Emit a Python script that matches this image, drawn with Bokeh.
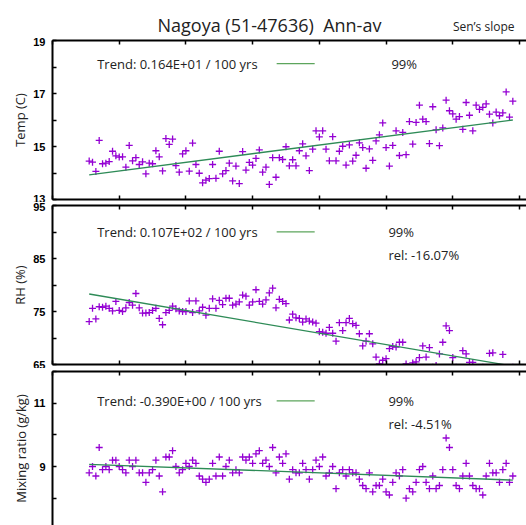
from bokeh.plotting import figure
from bokeh.models import LinearAxis, FixedTicker, Label
from bokeh.layouts import column
from bokeh.embed import file_html
from bokeh.resources import INLINE

years = list(range(1891, 2019))

temp = [14.45, 14.41, 14.06, 15.23, 14.35, 14.37, 14.43, 14.82, 14.65, 14.60,
        14.61, 14.22, 15.04, 14.46, 14.58, 14.32, 14.42, 13.97, 14.37, 14.35,
        14.84, 14.61, 14.08, 15.30, 15.08, 15.28, 14.28, 14.03, 14.72, 14.84,
        14.07, 15.13, 14.32, 13.99, 13.63, 13.73, 13.79, 14.32, 13.80, 14.82,
        13.97, 14.09, 14.37, 13.70, 14.26, 13.60, 14.81, 14.11, 14.40, 14.30,
        14.55, 14.87, 14.03, 14.22, 13.57, 14.58, 13.84, 14.58, 14.51, 14.99,
        14.27, 14.50, 14.27, 14.84, 15.10, 14.65, 14.09, 14.90, 15.59, 15.36,
        15.59, 14.90, 14.46, 15.37, 14.46, 14.82, 15.01, 14.30, 15.06, 14.45,
        14.67, 15.14, 14.96, 14.18, 14.91, 14.48, 15.21, 15.44, 15.89, 14.96,
        14.26, 15.04, 15.59, 14.66, 15.53, 14.69, 15.94, 15.09, 15.91, 16.56,
        16.03, 15.94, 15.11, 16.50, 15.63, 15.03, 15.70, 16.75, 16.35, 16.23,
        16.03, 16.13, 15.65, 16.66, 16.18, 15.59, 16.56, 16.40, 16.48, 16.61,
        16.22, 15.89, 16.30, 16.16, 16.27, 17.06, 16.11, 16.71]

rh = [73.1, 75.6, 73.6, 75.9, 75.8, 76.0, 75.6, 75.1, 76.9, 75.2,
      75.0, 75.7, 76.7, 76.2, 78.4, 75.7, 74.7, 74.7, 74.8, 75.2,
      75.6, 73.7, 72.5, 74.8, 75.2, 76.0, 75.5, 75.1, 75.0, 75.0,
      77.0, 74.8, 77.0, 75.1, 75.8, 74.3, 75.6, 77.4, 75.6, 77.1,
      76.3, 77.5, 77.5, 76.2, 76.4, 76.8, 78.1, 77.9, 76.2, 76.8,
      79.1, 76.9, 76.4, 77.2, 78.5, 79.4, 75.7, 77.3, 76.9, 76.5,
      73.4, 74.5, 73.8, 73.7, 73.0, 73.6, 73.2, 73.0, 72.8, 71.2,
      71.1, 70.9, 72.0, 70.9, 69.4, 72.9, 71.4, 72.9, 73.7, 72.7,
      72.4, 70.8, 68.5, 69.4, 70.8, 68.9, 66.4, 65.1, 65.8, 66.1,
      68.0, 68.4, 68.3, 69.2, 69.2, 65.1, 64.3, 65.3, 65.5, 66.3,
      68.5, 66.4, 68.2, 64.5, 64.8, 67.0, 69.2, 72.3, 71.4, 66.3,
      64.5, 64.0, 67.6, 67.0, 65.4, 65.4, 64.2, 64.0, 64.5, 64.3,
      67.1, 67.2, 64.0, 64.5, 66.9, 64.2, 64.0, 64.5]

mix = [8.8, 9.0, 8.7, 9.6, 8.9, 9.0, 8.9, 9.2, 9.2, 9.0,
       8.9, 8.8, 9.2, 9.0, 9.2, 8.8, 8.8, 8.5, 8.8, 8.9,
       9.2, 8.7, 8.2, 9.3, 9.3, 9.5, 9.0, 8.8, 8.9, 9.1,
       9.0, 9.2, 9.1, 8.7, 8.6, 8.5, 8.6, 9.1, 8.7, 9.3,
       8.7, 9.0, 9.2, 8.8, 8.9, 8.8, 9.3, 9.2, 9.3, 9.1,
       9.4, 9.5, 9.1, 9.2, 9.0, 9.6, 8.8, 9.3, 9.1, 9.4,
       8.6, 8.9, 8.8, 8.8, 9.1, 8.9, 8.6, 8.9, 9.2, 9.0,
       9.3, 8.7, 8.8, 9.0, 8.3, 8.8, 8.9, 8.7, 8.9, 8.8,
       8.8, 8.6, 8.4, 8.3, 8.8, 8.2, 8.4, 8.4, 8.6, 8.2,
       8.1, 8.5, 8.8, 8.7, 8.9, 8.0, 8.3, 8.2, 8.5, 8.9,
       9.0, 8.5, 8.3, 8.7, 8.3, 8.4, 8.9, 9.9, 9.6, 8.9,
       8.4, 8.3, 8.7, 9.1, 8.7, 8.4, 8.3, 8.3, 8.1, 8.7,
       9.1, 8.8, 8.8, 8.5, 8.9, 9.1, 8.5, 8.7]

trend_years = [1891, 2018]
temp_trend = [13.93, 16.00]
rh_trend = [78.3, 64.7]
mix_trend = [9.07, 8.57]

x_ticks = [1880, 1900, 1920, 1940, 1960, 1980, 2000, 2020]

PURPLE = "#9400d3"
GREEN = "#2e8b57"
KEYGREEN = "#5da55d"
TXT = "#222222"
FONT = "Open Sans"
W = 526
LEFT = 52
X0, X1 = 1880, 2022.1


def panel(height, btop, bbot, yr, majors, minors, ylabel, show_bottom=True):
    p = figure(width=W, height=height, x_range=(X0, X1), y_range=yr,
               output_backend="svg", toolbar_location=None,
               min_border_left=LEFT, min_border_right=0,
               min_border_top=btop, min_border_bottom=bbot,
               x_axis_location=None, y_axis_location=None)
    p.outline_line_color = None
    p.xgrid.grid_line_color = None
    p.ygrid.grid_line_color = None
    p.background_fill_color = "white"
    p.border_fill_color = "white"

    yax = LinearAxis(ticker=FixedTicker(ticks=majors, minor_ticks=minors))
    yax.axis_line_width = 2
    yax.major_tick_in = 4
    yax.major_tick_out = 0
    yax.minor_tick_in = 4
    yax.minor_tick_out = 0
    yax.major_tick_line_width = 1.5
    yax.minor_tick_line_width = 1.5
    yax.major_label_text_font = "Liberation Sans"
    yax.major_label_text_font_style = "bold"
    yax.major_label_text_font_size = "11px"
    yax.major_label_text_color = "black"
    yax.major_label_standoff = 7
    yax.axis_label = ylabel
    yax.axis_label_text_font = FONT
    yax.axis_label_text_font_style = "normal"
    yax.axis_label_text_font_size = "13px"
    yax.axis_label_text_color = TXT
    yax.axis_label_standoff = 1
    p.add_layout(yax, "left")

    locs = ["above", "below"] if show_bottom else ["above"]
    for loc in locs:
        xax = LinearAxis(ticker=FixedTicker(ticks=x_ticks, minor_ticks=[]))
        xax.axis_line_width = 2
        xax.major_tick_in = 4
        xax.major_tick_out = 0
        xax.major_tick_line_width = 1.5
        xax.minor_tick_in = 0
        xax.minor_tick_out = 0
        xax.major_label_text_font_size = "0px"
        xax.major_label_text_color = None
        xax.major_label_standoff = 0
        p.add_layout(xax, loc)
    return p


def text(p, x, y, s, size="13px", align="left", baseline="middle"):
    p.add_layout(Label(x=x, y=y, text=s, text_font=FONT, text_font_size=size,
                       text_color=TXT, text_align=align, text_baseline=baseline))


# ---- header (title row); its frame is aligned with the panels' frames ----
HEAD_H = 37
head = figure(width=W, height=HEAD_H, x_range=(LEFT, W), y_range=(0, HEAD_H),
              output_backend="svg", toolbar_location=None,
              min_border_left=LEFT, min_border_right=0, min_border_top=0,
              min_border_bottom=0, x_axis_location=None, y_axis_location=None)
head.outline_line_color = None
head.xgrid.grid_line_color = None
head.ygrid.grid_line_color = None
text(head, 157, HEAD_H - 24, "Nagoya (51-47636)\u00a0 Ann-av", size="18px")
text(head, 514, HEAD_H - 26, "Sen\u2019s slope", size="12px", align="right")

# ---- Temperature ----
p1 = panel(202 - HEAD_H, 40 - HEAD_H, 3, (13, 19), [13, 15, 17, 19], [14, 16, 18],
           "Temp (C)")
p1.scatter(years, temp, marker="cross", size=7, line_color=PURPLE, line_width=1.3)
p1.line(trend_years, temp_trend, line_color=GREEN, line_width=1.3)
text(p1, 1893.4, 18.13, "Trend: 0.164E+01 / 100 yrs")
p1.line([1947.2, 1958.6], [18.13, 18.13], line_color=KEYGREEN, line_width=1.3)
text(p1, 1981.6, 18.13, "99%")

# ---- Relative humidity ----
p2 = panel(166, 3, 4, (65, 95), [65, 75, 85, 95], [70, 80, 90], "RH (%)")
p2.scatter(years, rh, marker="cross", size=7, line_color=PURPLE, line_width=1.3)
p2.line(trend_years, rh_trend, line_color=GREEN, line_width=1.3)
text(p2, 1893.4, 90.04, "Trend: 0.107E+02 / 100 yrs")
p2.line([1947.2, 1958.6], [90.04, 90.04], line_color=KEYGREEN, line_width=1.3)
text(p2, 1980.7, 90.04, "99%")
text(p2, 1980.7, 85.63, "rel: -16.07%")

# ---- Mixing ratio ----
p3 = panel(157, 3, 0, (7.137, 12), [7, 9, 11], [8, 10, 12], "Mixing ratio (g/kg)",
           show_bottom=False)
p3.scatter(years, mix, marker="cross", size=7, line_color=PURPLE, line_width=1.3)
p3.line(trend_years, mix_trend, line_color=GREEN, line_width=1.3)
text(p3, 1893.4, 11.07, "Trend: -0.390E+00 / 100 yrs")
p3.line([1947.2, 1958.6], [11.07, 11.07], line_color=KEYGREEN, line_width=1.3)
text(p3, 1980.7, 11.07, "99%")
text(p3, 1980.7, 10.35, "rel: -4.51%")

layout = column(head, p1, p2, p3, spacing=0)
open("out.html", "w").write(file_html(layout, INLINE))
